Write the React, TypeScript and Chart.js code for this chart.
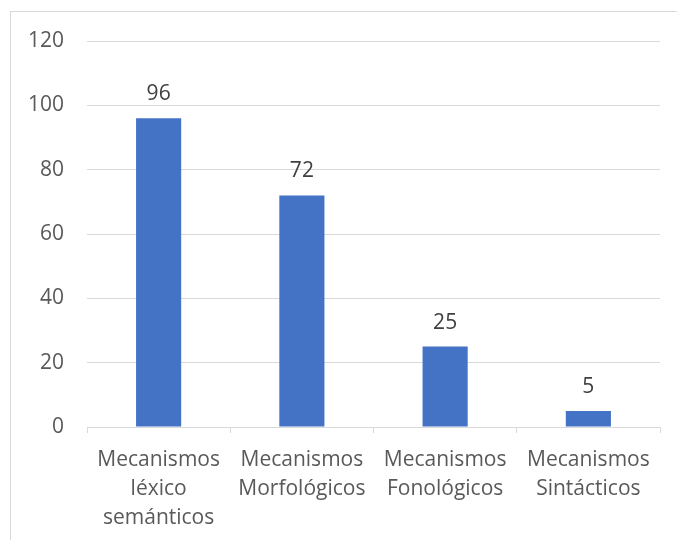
import React, { useEffect, useRef } from "react";
import { Chart, registerables } from "chart.js";

Chart.register(...registerables);

const categories: string[][] = [
  ["Mecanismos", "léxico", "semánticos"],
  ["Mecanismos", "Morfológicos"],
  ["Mecanismos", "Fonológicos"],
  ["Mecanismos", "Sintácticos"],
];
const values: number[] = [96, 72, 25, 5];
const yTicks: number[] = [0, 20, 40, 60, 80, 100, 120];

const FONT = "'Open Sans', Lato, sans-serif";
const SIZE = 21;
const GRID = "#d9d9d9";
const TEXT = "#595959";

const valueLabels = {
  id: "valueLabels",
  afterDatasetsDraw(chart: Chart) {
    const { ctx } = chart;
    const meta = chart.getDatasetMeta(0);
    ctx.save();
    ctx.font = `${SIZE}px ${FONT}`;
    ctx.fillStyle = "#404040";
    ctx.textAlign = "center";
    ctx.textBaseline = "alphabetic";
    meta.data.forEach((el: any, i: number) => {
      ctx.fillText(String(values[i]), el.x, el.y - 18);
    });
    ctx.restore();
  },
};

export default function App() {
  const ref = useRef<HTMLCanvasElement>(null);
  useEffect(() => {
    if (!ref.current) return;
    const chart = new Chart(ref.current, {
      type: "bar",
      data: {
        labels: categories,
        datasets: [
          {
            data: values,
            backgroundColor: "#4472C4",
            categoryPercentage: 1,
            barPercentage: 0.315,
          },
        ],
      },
      options: {
        animation: false,
        responsive: false,
        layout: { padding: { top: 41, right: 17, left: 0, bottom: 0 } },
        plugins: { legend: { display: false }, tooltip: { enabled: false } },
        scales: {
          x: {
            grid: {
              offset: true,
              drawOnChartArea: false,
              drawTicks: true,
              tickLength: 6,
              color: GRID,
            },
            border: { color: GRID },
            ticks: {
              color: TEXT,
              font: { family: FONT, size: SIZE, lineHeight: 1.37 },
              padding: 13,
              maxRotation: 0,
              autoSkip: false,
            },
            afterFit: (s: any) => {
              s.height = 113;
            },
          },
          y: {
            min: 0,
            max: 120,
            afterBuildTicks: (s: any) => {
              s.ticks = yTicks.map((v) => ({ value: v }));
            },
            grid: { color: GRID, drawTicks: false },
            border: { display: false },
            ticks: {
              color: TEXT,
              font: { family: FONT, size: SIZE },
              padding: 23,
            },
            afterFit: (s: any) => {
              s.width = 87;
            },
          },
        },
      },
      plugins: [valueLabels],
    });
    return () => chart.destroy();
  }, []);

  return (
    <div style={{ position: "fixed", left: 0, top: 0, width: 677, height: 540, background: "#fff", overflow: "hidden" }}>
      <div
        style={{
          position: "absolute",
          left: 10,
          top: 11,
          width: 700,
          height: 600,
          border: `1px solid ${GRID}`,
          boxSizing: "border-box",
        }}
      />
      <canvas ref={ref} width={677} height={540} style={{ position: "absolute", left: 0, top: 0 }} />
    </div>
  );
}
